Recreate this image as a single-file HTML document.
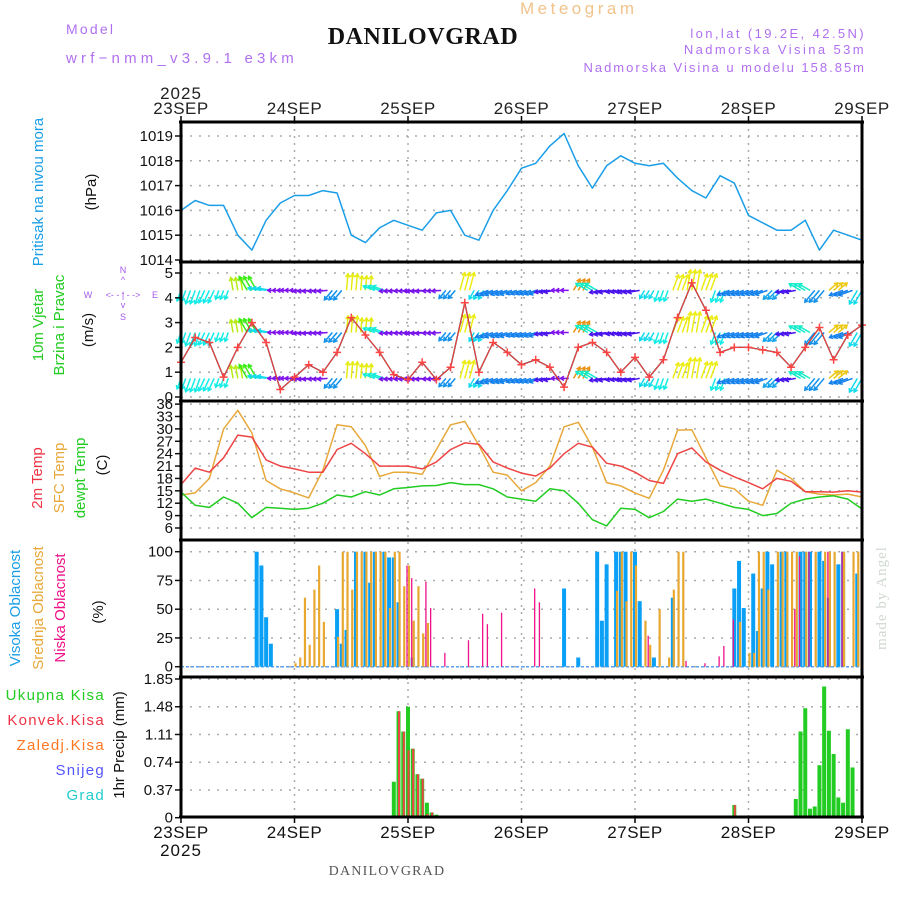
<!DOCTYPE html>
<html><head><meta charset="utf-8"><style>
html,body{margin:0;padding:0;background:#fff;}
svg{display:block;font-family:"Liberation Sans",sans-serif;}
</style></head><body>
<svg id="chart" width="900" height="900" viewBox="0 0 900 900" xmlns="http://www.w3.org/2000/svg">
<rect x="0" y="0" width="900" height="900" fill="#fff"/>
<text x="520" y="14" font-size="17" fill="#f2c38a" letter-spacing="3.5">Meteogram</text>
<text x="423" y="44" font-size="24" font-weight="bold" font-family="Liberation Serif, serif" text-anchor="middle" fill="#111" letter-spacing="0.6">DANILOVGRAD</text>
<text x="66" y="34" font-size="14" fill="#b070f0" letter-spacing="2.2">Model</text>
<text x="66" y="63" font-size="15" fill="#b070f0" letter-spacing="4.2">wrf−nmm_v3.9.1 e3km</text>
<text x="866" y="38" font-size="13" fill="#b070f0" text-anchor="end" letter-spacing="2.4">lon,lat (19.2E, 42.5N)</text>
<text x="866" y="54" font-size="13" fill="#b070f0" text-anchor="end" letter-spacing="2.4">Nadmorska Visina 53m</text>
<text x="866" y="72" font-size="13" fill="#b070f0" text-anchor="end" letter-spacing="2.0">Nadmorska Visina u modelu 158.85m</text>
<text x="387" y="875" font-size="14" font-family="Liberation Serif, serif" fill="#555" text-anchor="middle" letter-spacing="1.2">DANILOVGRAD</text>
<text transform="translate(886,598) rotate(-90)" font-size="15" font-family="Liberation Serif, serif" fill="#cfd8cf" text-anchor="middle" letter-spacing="1">made by Angel</text>
<text transform="translate(43,192) rotate(-90)" font-size="15" fill="#1a9ee8" text-anchor="middle">Pritisak na nivou mora</text>
<text transform="translate(96,192) rotate(-90)" font-size="15" fill="#111" text-anchor="middle">(hPa)</text>
<text transform="translate(43,325) rotate(-90)" font-size="15" fill="#22cc22" text-anchor="middle">10m Vjetar</text>
<text transform="translate(64,325) rotate(-90)" font-size="15" fill="#22cc22" text-anchor="middle">Brzina i Pravac</text>
<text transform="translate(93,330) rotate(-90)" font-size="15" fill="#111" text-anchor="middle">(m/s)</text>
<g fill="#a659ea" font-size="9" text-anchor="middle">
<text x="123" y="273">N</text><text x="123" y="283">^</text><text x="123" y="296">-</text>
<text x="88" y="298">W</text><text x="123" y="298">&lt;- - | - -&gt;</text><text x="155" y="298">E</text>
<text x="123" y="308">v</text><text x="123" y="320">S</text>
</g>
<text transform="translate(42,478) rotate(-90)" font-size="15" fill="#ee3344" text-anchor="middle">2m Temp</text>
<text transform="translate(64,478) rotate(-90)" font-size="15" fill="#e8a83a" text-anchor="middle">SFC Temp</text>
<text transform="translate(85,478) rotate(-90)" font-size="15" fill="#22cc22" text-anchor="middle">dewpt Temp</text>
<text transform="translate(107,465) rotate(-90)" font-size="15" fill="#111" text-anchor="middle">(C)</text>
<text transform="translate(20,608) rotate(-90)" font-size="15" fill="#1a9ee8" text-anchor="middle">Visoka Oblacnost</text>
<text transform="translate(43,608) rotate(-90)" font-size="15" fill="#e8a83a" text-anchor="middle">Srednja Oblacnost</text>
<text transform="translate(65,608) rotate(-90)" font-size="15" fill="#ee1188" text-anchor="middle">Niska Oblacnost</text>
<text transform="translate(103,612) rotate(-90)" font-size="15" fill="#111" text-anchor="middle">(%)</text>
<g font-size="15" text-anchor="end" letter-spacing="1.3">
<text x="105" y="700" fill="#22cc22">Ukupna  Kisa</text>
<text x="105" y="725" fill="#ee3344">Konvek.Kisa</text>
<text x="105" y="750" fill="#ff7722">Zaledj.Kisa</text>
<text x="105" y="775" fill="#5555ff">Snijeg</text>
<text x="105" y="800" fill="#22cccc">Grad</text>
</g>
<text transform="translate(124,745) rotate(-90)" font-size="15" fill="#111" text-anchor="middle">1hr Precip (mm)</text>
<g id="grid"></g>
<g id="marks"></g>
<g id="frame"></g>
</svg>
<script>
const days = ['23SEP','24SEP','25SEP','26SEP','27SEP','28SEP','29SEP'];
const pressTicks = [1014,1015,1016,1017,1018,1019];
const windTicks = [0,1,2,3,4,5];
const tempTicks = [6,9,12,15,18,21,24,27,30,33,36];
const cloudTicks = [0,25,50,75,100];
const precipTicks = [0,0.37,0.74,1.11,1.48,1.85];
// 3-hourly series, t = 0..48
const pressure = [1016.0,1016.4,1016.2,1016.2,1015.0,1014.4,1015.6,1016.3,1016.6,1016.6,1016.8,1016.7,1015.0,1014.7,1015.3,1015.6,1015.4,1015.2,1015.9,1016.0,1015.0,1014.8,1016.0,1016.8,1017.7,1017.9,1018.6,1019.1,1017.8,1016.9,1017.8,1018.2,1017.9,1017.8,1017.9,1017.3,1016.8,1016.5,1017.4,1017.1,1015.8,1015.5,1015.2,1015.2,1015.6,1014.4,1015.2,1015.0,1014.8];
const temp2m = [16.5,20.5,19.5,23,28.5,28,22.5,21,20.3,19.5,19.5,25,26.5,24,21,21,21,20.3,22,25,26.6,26.3,22,20.5,19.3,18.6,20.5,24,26.5,25.6,21.7,21,19.5,17.5,16.8,24,25.4,22,20,18.4,17,15.5,18,17.3,14.8,14.8,14.7,15,14.7];
const tempSfc = [14,14.5,18,30,34.5,29,17.5,15.5,14.5,13.3,20,31,30.5,26,18.5,19.5,19.5,19,25,31,31.8,26,19.5,18.8,15,17,21,30.5,31.6,25.6,17,16.2,14.5,13.2,20,29.7,29.8,23,16.2,15.5,12.5,11.5,20,18,14.8,14.2,14,14.2,13.5];
const dewpt = [14.7,11.5,11,13.5,12,8.5,11,10.8,10.5,10.8,12,14,13.5,14.8,14,15.5,15.8,16.2,16.3,17,16.5,16.5,15.5,13.5,13,12.5,15.5,15,12,8,6.5,10.8,10.5,8.5,10,13,12.5,13,12,11,10.5,9,9.5,12,13,13.5,13.8,13,10.6];
const windSpeed = [1.4,2.4,2.2,0.8,2.0,3.0,2.2,0.3,0.8,1.3,1.0,1.8,3.2,2.5,1.8,0.9,0.7,1.4,0.7,1.2,3.8,1.0,2.2,1.8,1.3,1.5,1.2,0.4,2.0,2.2,1.8,1.0,1.6,0.8,1.5,3.2,4.6,3.5,1.8,2.0,2.0,1.9,1.8,1.2,2.0,2.8,1.5,2.5,2.9];
const windDir = [250,250,245,250,100,120,170,180,180,185,185,230,85,85,160,185,185,185,185,230,75,240,200,200,200,200,190,180,60,150,190,190,190,240,250,70,80,70,250,200,200,200,225,190,150,230,40,200,240];
// hourly cloud cover [hour, %]
const cloudHigh = [[16,100],[17,88],[18,43],[19,20],[33,50],[34,20],[35,32],[37,100],[39,100],[40,73],[41,100],[43,100],[44,95],[45,95],[46,56],[49,8],[81,68],[84,8],[88,100],[89,40],[90,89],[92,100],[93,100],[94,100],[96,100],[97,57],[100,8],[104,60],[117,68],[118,92],[119,51],[121,81],[122,31],[123,68],[124,100],[125,89],[127,100],[128,100],[131,100],[132,100],[133,100],[135,100],[136,92],[137,60],[139,89],[140,100],[143,81]];
const cloudMid = [[24,3],[25,8],[26,60],[27,19],[28,67],[29,88],[30,39],[33,26],[34,100],[35,100],[36,67],[37,100],[38,100],[39,100],[40,100],[41,100],[42,100],[43,100],[44,51],[45,100],[46,100],[47,70],[48,88],[49,40],[50,70],[51,29],[52,38],[92,66],[93,100],[94,57],[95,100],[96,88],[98,40],[99,19],[101,50],[103,8],[104,67],[105,100],[106,100],[118,39],[120,12],[121,12],[122,100],[123,100],[124,67],[126,100],[127,100],[128,100],[129,100],[130,100],[132,100],[134,100],[136,100],[137,100],[138,100],[140,100],[142,100],[143,100]];
const cloudLow = [[48,88],[49,77],[52,74],[53,51],[56,12],[61,23],[64,46],[65,37],[68,47],[75,68],[76,56],[99,27],[107,5],[111,3],[114,9],[115,18],[117,41],[130,50],[131,96],[133,100],[137,100],[140,100]];
// hourly precipitation [hour, mm]
const precipTotal = [[45,0.48],[46,1.42],[47,1.15],[48,1.48],[49,0.92],[50,0.58],[51,0.52],[52,0.2],[53,0.07],[54,0.04],[117,0.17],[130,0.25],[131,1.15],[132,1.46],[133,0.12],[134,0.15],[135,0.7],[136,1.75],[137,1.16],[138,0.85],[139,0.27],[140,0.2],[141,1.18],[142,0.67]];
const precipConv = [[46,1.42],[47,1.15],[48,0.9],[49,0.92],[50,0.58],[51,0.52],[52,0.05],[53,0.07],[117,0.17]];

const NS='http://www.w3.org/2000/svg';
const X0=181, X1=862;
const X3 = t => X0 + t*(X1-X0)/48;
const XH = h => X0 + h*(X1-X0)/144;
const XD = d => X0 + d*(X1-X0)/6;
const yP = v => 260 - (v-1014)*24.8;
const yW = v => 397 - v*24.8;
const yT = v => 528 - (v-6)*4.13;
const yC = v => 666.7 - v*1.15;
const yR = v => 817.7 - v*74.97;
const panels = [[122,262],[262,401],[401,540],[540,677],[677,817]];
function mk(tag, attrs, parent){const e=document.createElementNS(NS,tag);for(const k in attrs)e.setAttribute(k,attrs[k]);parent.appendChild(e);return e;}
const grid=document.getElementById('grid'), marks=document.getElementById('marks'), frame=document.getElementById('frame');

days.forEach((d,i)=>{
  if(i>0&&i<6){
    const l=mk('line',{x1:XD(i),x2:XD(i),y1:122,y2:817,stroke:'#aaa','stroke-width':1.5,'stroke-dasharray':'2,5'},grid);
    
    
  }
  const t=mk('text',{x:XD(i),y:114,'font-size':17,'text-anchor':'middle',fill:'#222','letter-spacing':0.5},frame);
  t.textContent=d;
  
  
  const b=mk('text',{x:XD(i),y:838,'font-size':17,'text-anchor':'middle',fill:'#111','letter-spacing':0.5},frame);
  b.textContent=d;
  
  
});
const yr1=mk('text',{x:XD(0),y:99,'font-size':17,'text-anchor':'middle',fill:'#222','letter-spacing':1},frame);yr1.textContent='2025';


const yr2=mk('text',{x:XD(0),y:856,'font-size':17,'text-anchor':'middle',fill:'#111','letter-spacing':1},frame);yr2.textContent='2025';



function yTicks(ticks, fy, name){
  ticks.forEach(v=>{
    const y=fy(v);
    const g=mk('line',{x1:X0,x2:X1,y1:y,y2:y,stroke:'#aaa','stroke-width':1.5,'stroke-dasharray':'2,7'},grid);
    
    
    mk('line',{x1:X0-6,x2:X0,y1:y,y2:y,stroke:'#111','stroke-width':1.5},frame);
    const t=mk('text',{x:X0-8,y:y+5,'font-size':15,'text-anchor':'end',fill:'#111'},frame);
    t.textContent=String(v);
    
    
  });
}
yTicks(pressTicks,yP,'pressure');
yTicks(windTicks,yW,'wind');
yTicks(tempTicks,yT,'temp');
yTicks(cloudTicks,yC,'cloud');
yTicks(precipTicks,yR,'precip');

function line(arr, fy, color, name, w){
  const p=arr.map((v,i)=>X3(i).toFixed(1)+','+fy(v).toFixed(1)).join(' ');
  const e=mk('polyline',{points:p,fill:'none',stroke:color,'stroke-width':w||1.5,'stroke-linejoin':'round'},marks);
  
  
}
line(pressure,yP,'#1a9ee8','pressure-line');

function dirColor(d){
  const table=[[40,50],[60,35],[75,60],[85,62],[100,75],[120,110],[150,170],[160,175],[170,185],[180,270],[185,268],[190,255],[200,210],[225,200],[230,205],[240,185],[245,180],[250,178]];
  let best=table[0];table.forEach(r=>{if(Math.abs(r[0]-d)<Math.abs(best[0]-d))best=r;});
  return 'hsl('+best[1]+',85%,50%)';
}
const rows=[4.3,2.6,0.75];
rows.forEach(rv=>{
  windDir.forEach((d,i)=>{
    const c=dirColor(d);
    const a=d*Math.PI/180;
    const L=7+windSpeed[i]*3;
    [-4.7,0,4.7].forEach(off=>{
      const x=X3(i)+off, y=yW(rv);
      if(x<X0||x>X1)return;
      const x2=x+Math.cos(a)*L, y2=y-Math.sin(a)*L;
      const g=mk('g',{stroke:c,'stroke-width':1.5,fill:'none'},marks);
      
      
      mk('line',{x1:x,y1:y,x2:x2,y2:y2},g);
      const h1=a+Math.PI*0.82, h2=a-Math.PI*0.82;
      mk('polyline',{points:(x2+Math.cos(h1)*4)+','+(y2-Math.sin(h1)*4)+' '+x2+','+y2+' '+(x2+Math.cos(h2)*4)+','+(y2-Math.sin(h2)*4)},g);
    });
  });
});
line(windSpeed,yW,'#111','wind-speed-line',1.3);
line(windSpeed,yW,'#ff4444','wind-speed-red-line',1);
windSpeed.forEach((v,i)=>{
  const x=X3(i), y=yW(v);
  const g=mk('path',{d:`M${x-4},${y}H${x+4}M${x},${y-4}V${y+4}`,stroke:'#ff4444','stroke-width':1.5},marks);
  
  
});

line(tempSfc,yT,'#e8a83a','sfc-temp-line');
line(temp2m,yT,'#ee4444','temp-2m-line');
line(dewpt,yT,'#22cc22','dewpt-line');

function bars(arr, fy, color, w, off, name){
  arr.forEach(([h,v])=>{
    const x=XH(h)+off, y=fy(v), y0=fy(0);
    const r=mk('rect',{x:x-w/2,y:y,width:w,height:Math.max(0,y0-y),fill:color},marks);
    
    
  });
}
mk('line',{x1:X0,x2:X1,y1:yC(0),y2:yC(0),stroke:'#5aa0ee','stroke-width':1.5,'stroke-dasharray':'3,2'},marks);
bars(cloudHigh,yC,'#0aa0f5',4,0,'cloud-high-bar');
bars(cloudMid,yC,'#e8a830',2.2,1,'cloud-mid-bar');
bars(cloudLow,yC,'#ee1188',1.3,-1,'cloud-low-bar');

bars(precipTotal,yR,'#22cc22',4,0,'precip-total-bar');
bars(precipConv,yR,'#ee4444',2,0.5,'precip-convective-bar');

panels.forEach(([a,b])=>{
  mk('line',{x1:X0-2,x2:X1+2,y1:a,y2:a,stroke:'#000','stroke-width':3},frame);
});
mk('line',{x1:X0-2,x2:X1+2,y1:817,y2:817,stroke:'#000','stroke-width':3},frame);
mk('line',{x1:X0,x2:X0,y1:122,y2:817,stroke:'#000','stroke-width':3},frame);
mk('line',{x1:X1,x2:X1,y1:122,y2:817,stroke:'#000','stroke-width':3},frame);
days.forEach((d,i)=>{
  mk('line',{x1:XD(i),x2:XD(i),y1:817,y2:823,stroke:'#000','stroke-width':1.5},frame);
  mk('line',{x1:XD(i),x2:XD(i),y1:116,y2:122,stroke:'#000','stroke-width':1.5},frame);
});
</script>
</body></html>
